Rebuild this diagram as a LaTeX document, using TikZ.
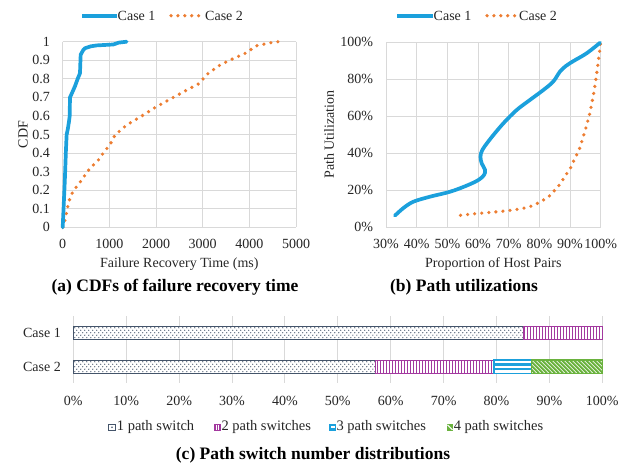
\documentclass[tikz,border=0pt]{standalone}
\usepackage{fontspec}
\setmainfont{Liberation Serif}
\definecolor{cblue}{HTML}{1BA0DC}
\definecolor{corange}{HTML}{ED7D31}
\definecolor{cgrid}{HTML}{D9D9D9}
\definecolor{cnavy}{HTML}{44546A}
\definecolor{cpurple}{HTML}{A3399F}
\definecolor{cgreen}{HTML}{6AB23E}
\definecolor{ctext}{HTML}{262626}
\newcommand{\pDots}[4]{%
  \fill[white] (#1,#2) rectangle (#3,#4);
  \begin{scope}
    \clip (#1,#2) rectangle (#3,#4);
    \foreach \r in {0,...,4}{
      \foreach \c in {0,...,115}{
        \fill[cnavy] ({#1+1.5+4*\c+2*mod(\r,2)},{#2+1.8+2.45*\r}) circle (0.65);
      }}
  \end{scope}
  \draw[cnavy,line width=1pt] (#1,#2) rectangle (#3,#4);
}
\newcommand{\pVert}[4]{%
  \fill[white] (#1,#2) rectangle (#3,#4);
  \begin{scope}
    \clip (#1,#2) rectangle (#3,#4);
    \foreach \c in {0,...,160}{
      \draw[cpurple,line width=1.1pt] ({#1+1.5+3*\c},#2) -- ({#1+1.5+3*\c},#4);
    }
  \end{scope}
  \draw[cpurple,line width=1pt] (#1,#2) rectangle (#3,#4);
}
\newcommand{\pHorz}[4]{%
  \fill[white] (#1,#2) rectangle (#3,#4);
  \draw[cblue,line width=2.3pt] (#1,{#2+4.45}) -- (#3,{#2+4.45});
  \draw[cblue,line width=2.3pt] (#1,{#2+8.9}) -- (#3,{#2+8.9});
  \draw[cblue,line width=1.5pt] (#1,#2) rectangle (#3,#4);
}
\newcommand{\pDiag}[4]{%
  \fill[white] (#1,#2) rectangle (#3,#4);
  \begin{scope}
    \clip (#1,#2) rectangle (#3,#4);
    \foreach \c in {0,...,40}{
      \draw[cgreen,line width=1.9pt] ({#1-14+4*\c},#2) -- ({#1-14+4*\c+13.3},#4);
    }
  \end{scope}
  \draw[cgreen,line width=1.1pt] (#1,#2) rectangle (#3,#4);
}
\begin{document}
\begin{tikzpicture}[x=1pt,y=-1pt,
  lbl/.style={font=\fontsize{14}{16}\selectfont, inner sep=0pt, text=ctext},
  leglbl/.style={font=\fontsize{14.5}{16}\selectfont, inner sep=0pt, text=ctext},
  captxt/.style={font=\fontsize{17.5}{20}\selectfont\bfseries, inner sep=0pt, text=black},
  gridline/.style={cgrid, line width=0.9pt},
  bluecurve/.style={cblue, line width=3.7pt, line join=round, line cap=round},
  dotcurve/.style={corange, line width=3.6pt, line cap=round, dash pattern=on 0pt off 7.1pt},
]
\useasboundingbox[fill=white] (0,0) rectangle (628,463);

% ---------------- Panel (a) ----------------
\foreach \i in {0,...,10} \draw[gridline] (62.7,{227.3-18.56*\i}) -- (296,{227.3-18.56*\i});
\foreach \i in {0,...,5} \draw[gridline] ({62.7+46.67*\i},41.7) -- ({62.7+46.67*\i},227.3);
\foreach \v [count=\i from 0] in {0,0.1,0.2,0.3,0.4,0.5,0.6,0.7,0.8,0.9,1}
  \node[lbl,anchor=east] (ay\i) at (50,{227.3-18.56*\i}) {\v};
\foreach \v [count=\i from 0] in {0,1000,2000,3000,4000,5000}
  \node[lbl] (ax\i) at ({62.7+46.67*\i},244) {\v};
\node[lbl,rotate=90] (aylab) at (23,134.5) {CDF};
\node[lbl] (axlab) at (179.3,264) {Failure Recovery Time (ms)};
\node[captxt] (acap) at (175,287) {(a) CDFs of failure recovery time};

\coordinate (al1a) at (82,15.7); \coordinate (al1b) at (117,15.7);
\draw[bluecurve,line cap=butt] (al1a) -- (al1b);
\node[lbl,anchor=west] (alc1) at (117.5,15.7) {Case 1};
\coordinate (al2a) at (171,15.7); \coordinate (al2b) at (204,15.7);
\draw[dotcurve,dash pattern=on 0pt off 6.9pt] (al2a) -- (al2b);
\node[lbl,anchor=west] (alc2) at (205,15.7) {Case 2};

\begin{scope}[shift={(62.7,227.3)}, x=0.04667pt, y=185.6pt]
  \draw[dotcurve] plot coordinates {(0,0) (50,0.04) (85,0.084) (120,0.124) (157,0.16) (228,0.196) (313,0.224) (407,0.255) (500,0.29) (585,0.318) (677,0.341) (800,0.372) (870,0.402) (977,0.434) (1050,0.461) (1120,0.497) (1370,0.551) (1726,0.605) (1977,0.645) (2370,0.70) (2655,0.739) (2905,0.772) (2998,0.797) (3120,0.83) (3368,0.874) (3619,0.905) (3906,0.937) (4155,0.978) (4440,0.994) (4618,1.0)};
  \draw[bluecurve] plot coordinates {(0,0) (45,0.25) (70,0.42) (85,0.5) (110,0.53) (135,0.57) (150,0.6) (156,0.7) (193,0.72) (263,0.76) (321,0.8) (370,0.83) (385,0.93) (440,0.955) (478,0.965) (600,0.975) (727,0.98) (1083,0.985) (1200,0.995) (1370,1.0)};
\end{scope}

% ---------------- Panel (b) ----------------
\foreach \i in {0,...,5} \draw[gridline] (386,{227.3-37.06*\i}) -- (600.7,{227.3-37.06*\i});
\foreach \i in {0,...,7} \draw[gridline] ({386+30.67*\i},42) -- ({386+30.67*\i},227.3);
\foreach \v [count=\i from 0] in {0\%,20\%,40\%,60\%,80\%,100\%}
  \node[lbl,anchor=east] (by\i) at (373.3,{227.3-37.06*\i}) {\v};
\foreach \v [count=\i from 0] in {30\%,40\%,50\%,60\%,70\%,80\%,90\%,100\%}
  \node[lbl] (bx\i) at ({386+30.67*\i},244) {\v};
\node[lbl,rotate=90] (bylab) at (329,134.5) {Path Utilization};
\node[lbl] (bxlab) at (493.3,264) {Proportion of Host Pairs};
\node[captxt] (bcap) at (464,287) {(b) Path utilizations};

\coordinate (bl1a) at (397,15.7); \coordinate (bl1b) at (433,15.7);
\draw[bluecurve,line cap=butt] (bl1a) -- (bl1b);
\node[lbl,anchor=west] (blc1) at (433.5,15.7) {Case 1};
\coordinate (bl2a) at (487,15.7); \coordinate (bl2b) at (518,15.7);
\draw[dotcurve,dash pattern=on 0pt off 6.9pt] (bl2a) -- (bl2b);
\node[lbl,anchor=west] (blc2) at (519,15.7) {Case 2};

\begin{scope}[shift={(294,227.3)}, x=3.067pt, y=1.853pt]
  \draw[dotcurve] plot[smooth,tension=0.5] coordinates {(54.3,6.5) (60,7.5) (67,8.5) (74,10) (77.5,11.5) (80,13.5) (83,16.5) (85,20) (86.7,23.2) (88.5,28) (90,31.5) (91.5,37) (93,42) (94.5,50) (96.3,60.6) (97.8,73.2) (98.9,85.4) (100,100)};
  \draw[bluecurve] plot[smooth,tension=0.55] coordinates {(32.9,6.3) (35.6,10.3) (38.9,13.8) (44.3,16.5) (50.9,19.2) (56.3,22.5) (60.1,25.5) (61.95,28.2) (62.3,30.9) (61.2,34.5) (60.8,38.1) (61.4,41.7) (63.9,47.5) (68.2,56) (72.6,63.3) (76.9,68.7) (81.3,74.1) (84.5,78.6) (86.7,84) (88.6,87) (91.1,89.7) (95.4,93.9) (99.8,99.6)};
\end{scope}

% ---------------- Panel (c) ----------------
\foreach \i in {0,...,10} \draw[gridline] ({73.3+52.9*\i},316) -- ({73.3+52.9*\i},382.7);
\foreach \v [count=\i from 0] in {0\%,10\%,20\%,30\%,40\%,50\%,60\%,70\%,80\%,90\%,100\%}
  \node[lbl] (cx\i) at ({73.3+52.9*\i},400.7) {\v};
\node[lbl,anchor=east] (cc1) at (61,333) {Case 1};
\node[lbl,anchor=east] (cc2) at (61,366.7) {Case 2};

\pDots{73.3}{326}{523.3}{339.3}
\pVert{523.3}{326}{602.3}{339.3}
\pDots{73.3}{360}{375.7}{373.3}
\pVert{375.7}{360}{494}{373.3}
\pHorz{494}{360}{531.7}{373.3}
\pDiag{531.7}{360}{602.3}{373.3}

% legend (c)
\draw[cnavy,line width=0.9pt,fill=white] (108.7,424) rectangle (115.3,430.6);
\fill[cnavy] (112,427.3) circle (0.9);
\node[leglbl,anchor=west] (cl1) at (116.7,427.3) {1 path switch};
\fill[cpurple] (214.3,424) rectangle (220.9,430.6);
\draw[white,line width=0.7pt] (216.5,424.8) -- (216.5,429.8);
\draw[white,line width=0.7pt] (218.7,424.8) -- (218.7,429.8);
\node[leglbl,anchor=west] (cl2) at (221.3,427.3) {2 path switches};
\fill[cblue] (329.3,424) rectangle (335.9,430.6);
\fill[white] (330.5,426.3) rectangle (334.7,428.3);
\node[leglbl,anchor=west] (cl3) at (336.3,427.3) {3 path switches};
\fill[cgreen] (446.7,424) rectangle (453.3,430.6);
\draw[white,line width=1pt] (447.5,424.8) -- (452.5,429.8);
\node[leglbl,anchor=west] (cl4) at (453.6,427.3) {4 path switches};

\node[captxt] (ccap) at (313,455.7) {(c) Path switch number distributions};
\end{tikzpicture}
\end{document}
